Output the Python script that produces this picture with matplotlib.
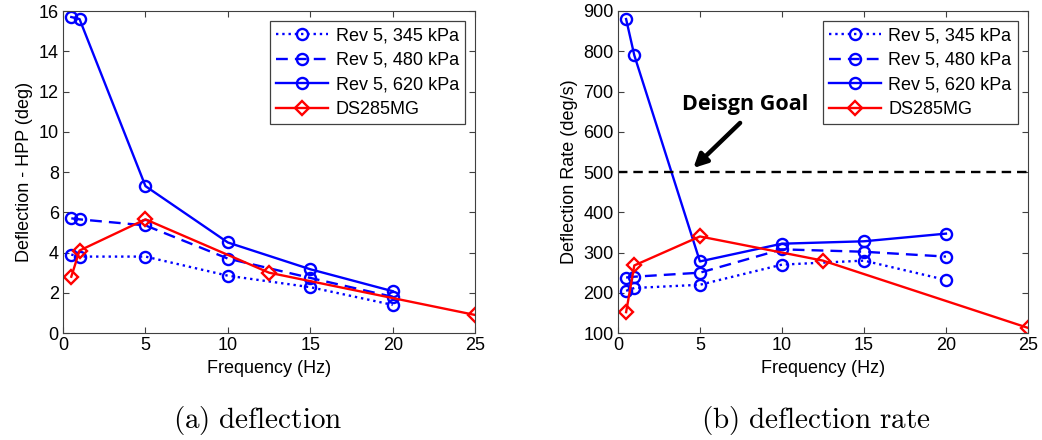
import matplotlib
matplotlib.use("Agg")
import matplotlib.pyplot as plt

plt.rcParams['font.family'] = ['Liberation Sans', 'DejaVu Sans']
plt.rcParams['mathtext.fontset'] = 'cm'

# frequencies (Hz)
freq_rev5 = [0.5, 1, 5, 10, 15, 20]
freq_ds = [0.5, 1, 5, 12.5, 25]

# deflection - HPP (deg)
defl_345 = [3.9, 3.8, 3.8, 2.85, 2.28, 1.4]
defl_480 = [5.7, 5.65, 5.35, 3.7, 2.74, 1.8]
defl_620 = [15.7, 15.6, 7.3, 4.5, 3.17, 2.08]
defl_ds = [2.8, 4.1, 5.65, 3.0, 0.9]

# deflection rate (deg/s)
rate_345 = [205, 212, 220, 270, 280, 232]
rate_480 = [238, 240, 250, 308, 302, 290]
rate_620 = [880, 790, 278, 322, 328, 347]
rate_ds = [152, 268, 340, 280, 113]
design_goal = 500

labels = ['Rev 5, 345 kPa', 'Rev 5, 480 kPa', 'Rev 5, 620 kPa', 'DS285MG']

fig = plt.figure(figsize=(10.42, 4.4), dpi=100)
ax1 = fig.add_axes([0.0605, 0.243, 0.3955, 0.732])
ax2 = fig.add_axes([0.593, 0.243, 0.3935, 0.732])

blue = '#0000ff'
red = '#ff0000'
fs = 13


def draw(ax, ys):
    kw = dict(color=blue, lw=1.7, marker='o', ms=8, mfc='none', mew=1.7)
    ax.plot(freq_rev5, ys[0], ls=':', label=labels[0], **kw)
    ax.plot(freq_rev5, ys[1], ls='--', dashes=(5, 3), label=labels[1], **kw)
    ax.plot(freq_rev5, ys[2], ls='-', label=labels[2], **kw)
    ax.plot(freq_ds, ys[3], color=red, lw=1.7, marker='D', ms=7, mfc='none',
            mew=1.7, label=labels[3])
    ax.set_xlim(0, 25)
    ax.set_xticks([0, 5, 10, 15, 20, 25])
    ax.tick_params(direction='in', top=True, right=True, labelsize=fs,
                   length=4, color='#404040', pad=3)
    for s in ax.spines.values():
        s.set_color('#404040')
    ax.set_xlabel('Frequency (Hz)', fontsize=fs, labelpad=4)
    leg = ax.legend(loc='upper right', fontsize=fs, fancybox=False,
                    framealpha=1, edgecolor='#404040', handlelength=2.9,
                    borderpad=0.35, labelspacing=0.42, handletextpad=0.4,
                    borderaxespad=0.55)
    leg.get_frame().set_linewidth(0.9)


draw(ax1, [defl_345, defl_480, defl_620, defl_ds])
ax1.set_ylim(0, 16)
ax1.set_yticks(range(0, 17, 2))
ax1.set_ylabel('Deflection - HPP (deg)', fontsize=fs, labelpad=4)

draw(ax2, [rate_345, rate_480, rate_620, rate_ds])
ax2.set_ylim(100, 900)
ax2.set_yticks(range(100, 901, 100))
ax2.set_ylabel('Deflection Rate (deg/s)', fontsize=fs, labelpad=4)
ax2.axhline(design_goal, color='black', ls='--', lw=1.7, dashes=(4, 2.5))
ax2.text(7.75, 668, 'Deisgn Goal', ha='center', va='center', fontsize=15.5,
         fontweight='bold', family=['Open Sans', 'DejaVu Sans'])
ax2.annotate('', xy=(4.6, 510), xytext=(7.45, 622),
             arrowprops=dict(arrowstyle='-|>', color='black', lw=3.2,
                             mutation_scale=20, shrinkA=0, shrinkB=0))

fig.text(0.2476, 0.045, r'$\mathrm{(a)\ deflection}$', ha='center',
         va='center', fontsize=21)
fig.text(0.783, 0.045, r'$\mathrm{(b)\ deflection\ rate}$', ha='center',
         va='center', fontsize=21)

fig.savefig('out.png', dpi=100)
